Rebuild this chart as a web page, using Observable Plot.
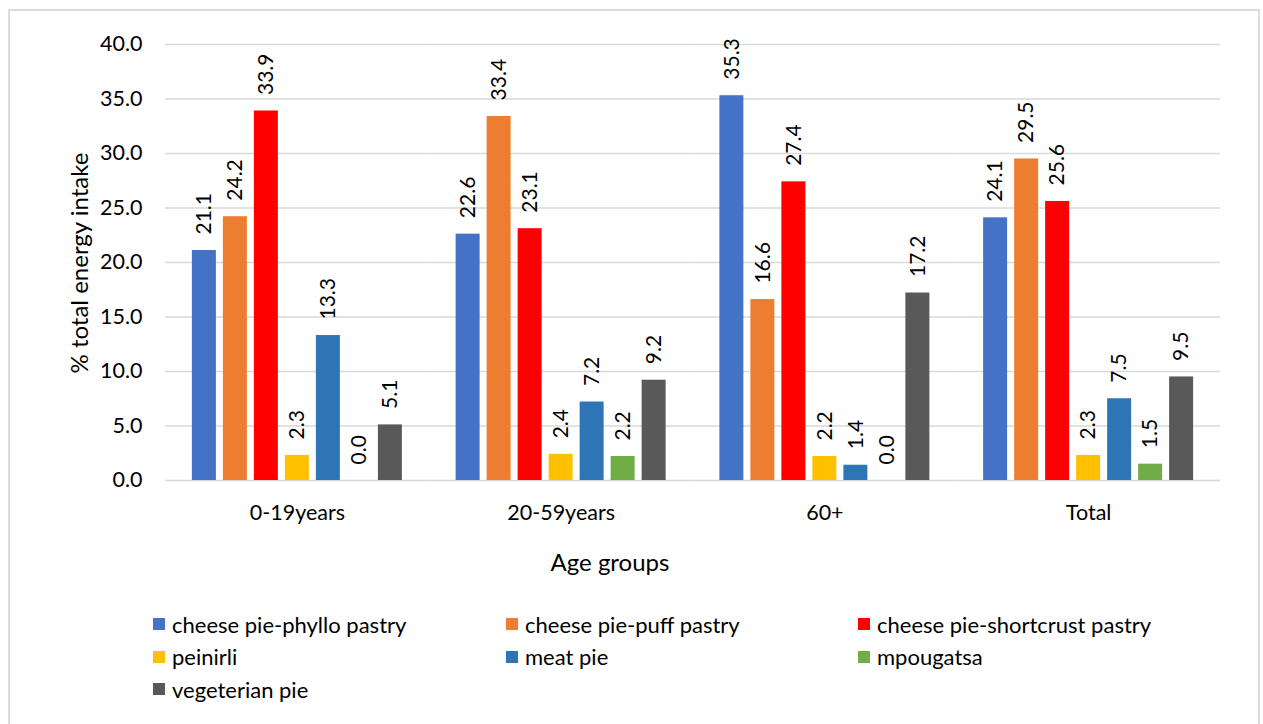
<!DOCTYPE html>
<html>
<head>
<meta charset="utf-8">
<script src="https://cdn.jsdelivr.net/npm/d3@7"></script>
<script src="https://cdn.jsdelivr.net/npm/@observablehq/plot@0.6"></script>
<style>
  html, body { margin: 0; padding: 0; background: #fff; overflow: hidden; }
  #wrap { position: relative; width: 1263px; height: 724px; font-family: Lato, "Open Sans", sans-serif; color: #000; }
  #border { position: absolute; left: 8px; top: 9px; width: 1252px; height: 740px; border: 2px solid #dcdcdc; box-sizing: border-box; }
  #chart { position: absolute; left: 0; top: 0; }
  #ylabel { position: absolute; left: 79px; top: 263px; transform: translate(-50%, -50%) rotate(-90deg); white-space: nowrap; font-size: 24px; line-height: 28px; }
  #xlabel { position: absolute; top: 547px; left: 460px; width: 300px; text-align: center; font-size: 24px; line-height: 30px; }
  #legend { position: absolute; left: 153px; top: 608px; display: grid; grid-template-columns: 353px 352px 320px; grid-auto-rows: 32.5px; font-size: 22px; }
  .item { display: flex; align-items: center; white-space: nowrap; }
  .sw { width: 12px; height: 12px; margin-right: 7px; flex: none; }
</style>
</head>
<body>
<div id="wrap">
  <div id="border"></div>
  <div id="chart"></div>
  <div id="ylabel">% total energy intake</div>
  <div id="xlabel">Age groups</div>
  <div id="legend"></div>
</div>
<script>
const groups = ["0-19years", "20-59years", "60+", "Total"];
const series = [
  "cheese pie-phyllo pastry",
  "cheese pie-puff pastry",
  "cheese pie-shortcrust pastry",
  "peinirli",
  "meat pie",
  "mpougatsa",
  "vegeterian pie"
];
const colors = ["#4472C4", "#ED7D31", "#FF0000", "#FFC000", "#2E75B6", "#70AD47", "#595959"];
const values0to19 = [21.1, 24.2, 33.9, 2.3, 13.3, 0.0, 5.1];
const values20to59 = [22.6, 33.4, 23.1, 2.4, 7.2, 2.2, 9.2];
const values60plus = [35.3, 16.6, 27.4, 2.2, 1.4, 0.0, 17.2];
const valuesTotal = [24.1, 29.5, 25.6, 2.3, 7.5, 1.5, 9.5];
const yTicks = [0, 5, 10, 15, 20, 25, 30, 35, 40];

const valueRows = [values0to19, values20to59, values60plus, valuesTotal];
const data = groups.flatMap((g, i) => series.map((s, j) => ({group: g, series: s, value: valueRows[i][j]})));

const chart = Plot.plot({
  width: 1263,
  height: 600,
  marginLeft: 165,
  marginRight: 43,
  marginTop: 44,
  marginBottom: 120,
  style: {fontFamily: "Lato, 'Open Sans', sans-serif", fontSize: "21.5px", color: "#000", background: "transparent", overflow: "visible"},
  fx: {domain: groups, padding: 0, round: false, label: null, tickSize: 0, tickPadding: 24},
  x: {domain: series, paddingInner: 0.226, paddingOuter: 0.867, round: false, axis: null},
  y: {domain: [0, 40], ticks: yTicks, tickFormat: d => d.toFixed(1), tickSize: 0, tickPadding: 23, label: null},
  color: {domain: series, range: colors},
  marks: [
    Plot.gridY(yTicks, {stroke: "#d9d9d9", strokeOpacity: 1, strokeWidth: 1.5}),
    Plot.barY(data, {fx: "group", x: "series", y: "value", fill: "series"}),
    Plot.text(data, {fx: "group", x: "series", y: "value", text: d => d.value.toFixed(1), rotate: -90, textAnchor: "start", lineAnchor: "middle", dy: -16, fontSize: 21, fill: "#000"})
  ]
});
document.getElementById("chart").appendChild(chart);

const legend = document.getElementById("legend");
series.forEach((s, i) => {
  const item = document.createElement("div");
  item.className = "item";
  const sw = document.createElement("span");
  sw.className = "sw";
  sw.style.background = colors[i];
  const label = document.createElement("span");
  label.textContent = s;
  item.appendChild(sw);
  item.appendChild(label);
  legend.appendChild(item);
});
</script>
</body>
</html>
